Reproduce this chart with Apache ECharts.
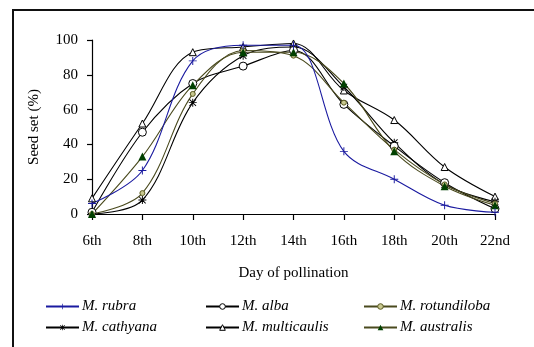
<!DOCTYPE html>
<html><head><meta charset="utf-8">
<script src="https://cdn.jsdelivr.net/npm/echarts@6/dist/echarts.min.js"></script>
<style>html,body{margin:0;padding:0;background:#fff}#c{width:534px;height:347px}</style>
</head><body><div id="c"></div>
<script>
const days = ['6th','8th','10th','12th','14th','16th','18th','20th','22nd'];
const rubra = [6, 25, 88, 97, 97, 36, 20, 5, 1];
const alba = [1, 47, 75, 85, 94, 63, 39, 18, 3];
const rotundiloba = [0, 12, 69, 94, 91, 64, 37, 17, 6];
const cathyana = [0, 8, 64, 91, 96, 73, 41, 17, 7];
const multicaulis = [9, 52, 93, 96, 98, 71, 54, 27, 10];
const australis = [0, 33, 74, 93, 93, 75, 36, 16, 5];

const FONT = 'Liberation Serif';
const plusPath = 'path://M4.4,0H5.6V4.4H10V5.6H5.6V10H4.4V5.6H0V4.4H4.4Z';
const starPath = 'path://M4.4,0H5.6V4.4H10V5.6H5.6V10H4.4V5.6H0V4.4H4.4Z M1.3,0.5L5,4.2L8.7,0.5L9.5,1.3L5.8,5L9.5,8.7L8.7,9.5L5,5.8L1.3,9.5L0.5,8.7L4.2,5L0.5,1.3Z';

function mk(name, data, color, symbol, size, fill, border, bw) {
  return {
    name, type: 'line', data, smooth: 0.35,
    symbol, symbolSize: size,
    lineStyle: {color, width: 1.1},
    itemStyle: {color: fill, borderColor: border, borderWidth: bw},
    emphasis: {disabled: true}, z: 2
  };
}
const series = [
  mk('M. multicaulis', multicaulis, '#000', 'triangle', 7, '#fff', '#000', 1),
  mk('M. cathyana', cathyana, '#000', starPath, 8, '#000', '#000', 0),
  mk('M. alba', alba, '#000', 'circle', 8, '#fff', '#000', 1),
  mk('M. rotundiloba', rotundiloba, '#4a4a1e', 'circle', 5, '#c8c890', '#5a5a20', 1),
  mk('M. australis', australis, '#4a4a1e', 'triangle', 8, '#004000', '#004000', 0),
  mk('M. rubra', rubra, '#1a1aa0', plusPath, 8, '#1a1aa0', '#1a1aa0', 0)
];
const legPos = [
  ['M. rubra', 45, 299, 0], ['M. alba', 205, 299, 1], ['M. rotundiloba', 363, 299, 1],
  ['M. cathyana', 45, 320, 0], ['M. multicaulis', 205, 320, 1], ['M. australis', 363, 320, 0]
];
const legend = legPos.map(([n, x, y, bw]) => ({
  data: [n], left: x, top: y, itemWidth: 33, itemHeight: 7, itemGap: 0, padding: 0,
  itemStyle: {borderWidth: bw},
  textStyle: {fontFamily: FONT, fontStyle: 'italic', fontSize: 15, color: '#000', padding: [0,0,0,-2]},
  selectedMode: false
}));
const chart = echarts.init(document.getElementById('c'));
chart.setOption({
  animation: false,
  backgroundColor: '#fff',
  grid: {left: 92, right: 39, top: 40, bottom: 133, containLabel: false},
  legend,
  xAxis: {
    type: 'category', data: days, boundaryGap: false,
    name: 'Day of pollination', nameLocation: 'middle', nameGap: 52,
    nameTextStyle: {fontFamily: FONT, fontSize: 15, color: '#000'},
    axisLine: {lineStyle: {color: '#000', width: 1.2}},
    axisTick: {inside: false, length: 6, lineStyle: {color: '#000', width: 1.2}, alignWithLabel: true},
    axisLabel: {fontFamily: FONT, fontSize: 15, color: '#000', margin: 20},
    splitLine: {show: false}
  },
  yAxis: {
    type: 'value', min: 0, max: 100, interval: 20,
    name: 'Seed set (%)', nameLocation: 'middle', nameGap: 50,
    nameTextStyle: {fontFamily: FONT, fontSize: 15, color: '#000'},
    axisLine: {show: true, lineStyle: {color: '#000', width: 1.2}},
    axisTick: {show: true, length: 5, lineStyle: {color: '#000', width: 1.2}},
    axisLabel: {fontFamily: FONT, fontSize: 15, color: '#000', margin: 14},
    splitLine: {show: false}
  },
  graphic: [{
    type: 'rect', shape: {x: 13, y: 10, width: 600, height: 400},
    style: {fill: 'none', stroke: '#111', lineWidth: 2}, silent: true
  }],
  series
});
</script></body></html>
